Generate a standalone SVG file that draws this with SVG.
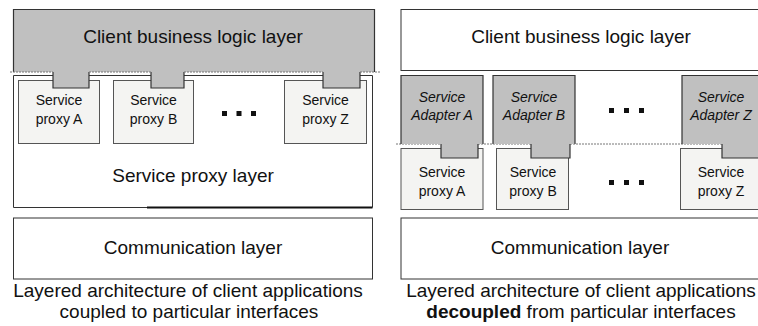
<svg xmlns="http://www.w3.org/2000/svg" width="758" height="326" viewBox="0 0 758 326">
<style>
text{font-family:"Liberation Sans",Arial,sans-serif;fill:#111;text-anchor:middle}
.big{font-size:19px}
.small{font-size:14px}
.it{font-size:14px;font-style:italic}
.layer{fill:#fff;stroke:#333;stroke-width:1}
.gray{fill:#c0c0c0;stroke:none}
.edge{fill:none;stroke:#333;stroke-width:1.2}
.proxy{fill:#f4f4f2;stroke:#555;stroke-width:1}
.dot{fill:none;stroke:#777;stroke-width:1;stroke-dasharray:2 1}
.sq{fill:#111}
</style>
<g id="left-proxy-layer">
<path class="layer" d="M53 75.5H13.5V207.5H147M89 75.5H151M184 75.5H323M360 75.5H372.5V207.5"/>
<line x1="147" y1="207.5" x2="372.5" y2="207.5" stroke="#111" stroke-width="2"/>
<text class="big" x="193" y="182">Service proxy layer</text>
</g>
<g id="left-proxy-a">
<rect class="proxy" x="18.5" y="80.5" width="81" height="63"/>
<text class="small" x="59" y="104.5">Service</text>
<text class="small" x="59" y="123.5">proxy A</text>
</g>
<g id="left-proxy-b">
<rect class="proxy" x="113.5" y="80.5" width="80" height="63"/>
<text class="small" x="153.5" y="104.5">Service</text>
<text class="small" x="153.5" y="123.5">proxy B</text>
</g>
<g id="left-dots">
<rect class="sq" x="222" y="111" width="5" height="5"/>
<rect class="sq" x="236.5" y="111" width="5" height="5"/>
<rect class="sq" x="251" y="111" width="5" height="5"/>
</g>
<g id="left-proxy-z">
<rect class="proxy" x="284.5" y="80.5" width="82" height="63"/>
<text class="small" x="325.5" y="104.5">Service</text>
<text class="small" x="325.5" y="123.5">proxy Z</text>
</g>
<g id="left-client">
<path class="gray" d="M13.5 9.5H374.5V72H360V88H323V72H184V88H151V72H89V88H53V72H13.5Z"/>
<path class="edge" d="M13.5 72V9.5H374.5V72"/>
<path class="edge" d="M53 72V88H89V72M151 72V88H184V72M323 72V88H360V72"/>
<text class="big" x="193" y="43">Client business logic layer</text>
</g>
<g id="left-comm">
<rect class="layer" x="13.5" y="218" width="359" height="61"/>
<text class="big" x="193" y="254">Communication layer</text>
</g>
<g id="connectors">
<line class="dot" x1="10" y1="72" x2="53" y2="72"/>
<line class="dot" x1="89" y1="72" x2="151" y2="72"/>
<line class="dot" x1="184" y1="72" x2="323" y2="72"/>
<line class="dot" x1="360" y1="72" x2="380" y2="72"/>
<line class="dot" x1="396" y1="144" x2="441" y2="144"/>
<line class="dot" x1="478" y1="144" x2="531" y2="144"/>
<line class="dot" x1="570" y1="144" x2="722" y2="144"/>
</g>
<text class="big" x="188" y="297">Layered architecture of client applications</text>
<text class="big" x="189" y="318">coupled to particular interfaces</text>
<g id="right-client">
<rect class="layer" x="401" y="9.5" width="362" height="61"/>
<text class="big" x="581" y="43">Client business logic layer</text>
</g>
<g id="right-proxy-a">
<rect class="proxy" x="401" y="148.5" width="82" height="61"/>
<text class="small" x="442" y="177">Service</text>
<text class="small" x="442" y="196">proxy A</text>
</g>
<g id="right-proxy-b">
<rect class="proxy" x="496.5" y="148.5" width="72" height="61"/>
<text class="small" x="533" y="177">Service</text>
<text class="small" x="533" y="196">proxy B</text>
</g>
<g id="right-proxy-z">
<rect class="proxy" x="680.5" y="148.5" width="82" height="61"/>
<text class="small" x="721" y="177">Service</text>
<text class="small" x="721" y="196">proxy Z</text>
</g>
<g id="right-adapter-a">
<path class="gray" d="M401 75.5H483V144H478V158H441V144H401Z"/>
<path class="edge" d="M401 144V75.5H483V144M441 144V158H478V144"/>
<text class="it" x="442" y="101.5">Service</text>
<text class="it" x="442" y="119.5">Adapter A</text>
</g>
<g id="right-adapter-b">
<path class="gray" d="M493 75.5H575V144H570V158H531V144H493Z"/>
<path class="edge" d="M493 144V75.5H575V144M531 144V158H570V144"/>
<text class="it" x="534" y="101.5">Service</text>
<text class="it" x="534" y="119.5">Adapter B</text>
</g>
<g id="right-dots">
<rect class="sq" x="609" y="108" width="5" height="5"/>
<rect class="sq" x="624" y="108" width="5" height="5"/>
<rect class="sq" x="639" y="108" width="5" height="5"/>
<rect class="sq" x="609" y="180" width="5" height="5"/>
<rect class="sq" x="624" y="180" width="5" height="5"/>
<rect class="sq" x="639" y="180" width="5" height="5"/>
</g>
<g id="right-adapter-z">
<path class="gray" d="M682 75.5H762V158H722V144H682Z"/>
<path class="edge" d="M682 144V75.5H762M722 144V158H762"/>
<text class="it" x="721" y="101.5">Service</text>
<text class="it" x="721" y="119.5">Adapter Z</text>
</g>
<g id="right-comm">
<rect class="layer" x="401" y="218" width="362" height="61"/>
<text class="big" x="580" y="254">Communication layer</text>
</g>
<text class="big" x="581" y="297">Layered architecture of client applications</text>
<text class="big" x="581" y="318"><tspan font-weight="bold">decoupled</tspan> from particular interfaces</text>
</svg>
